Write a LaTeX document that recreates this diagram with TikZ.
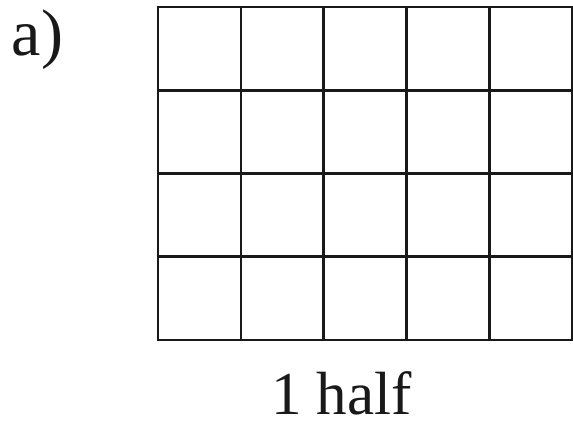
\documentclass[tikz,border=0pt]{standalone}
\usepackage{fontspec}
\setmainfont{Liberation Serif}
\tikzset{
  gridline/.style={line width=2.6pt, color=black!90},
  lbl/.style={anchor=base west, inner sep=0pt, outer sep=0pt, text=black!90, text depth=0pt}
}
\begin{document}
\begin{tikzpicture}[x=1pt,y=-1pt]
\useasboundingbox (0,0) rectangle (573,424);
\foreach \i in {0,...,5} {
  \draw[gridline] (158+82.8*\i,7) -- (158+82.8*\i,340);
}
\foreach \j in {0,...,4} {
  \draw[gridline] (156.7,7+83.25*\j) -- (573.3,7+83.25*\j);
}
\node[lbl, font=\fontsize{66}{70}\selectfont] (a) at (12,55) {a)};
\node[lbl, font=\fontsize{61}{66}\selectfont] (cap) at (271,414) {1 half};
\end{tikzpicture}
\end{document}
